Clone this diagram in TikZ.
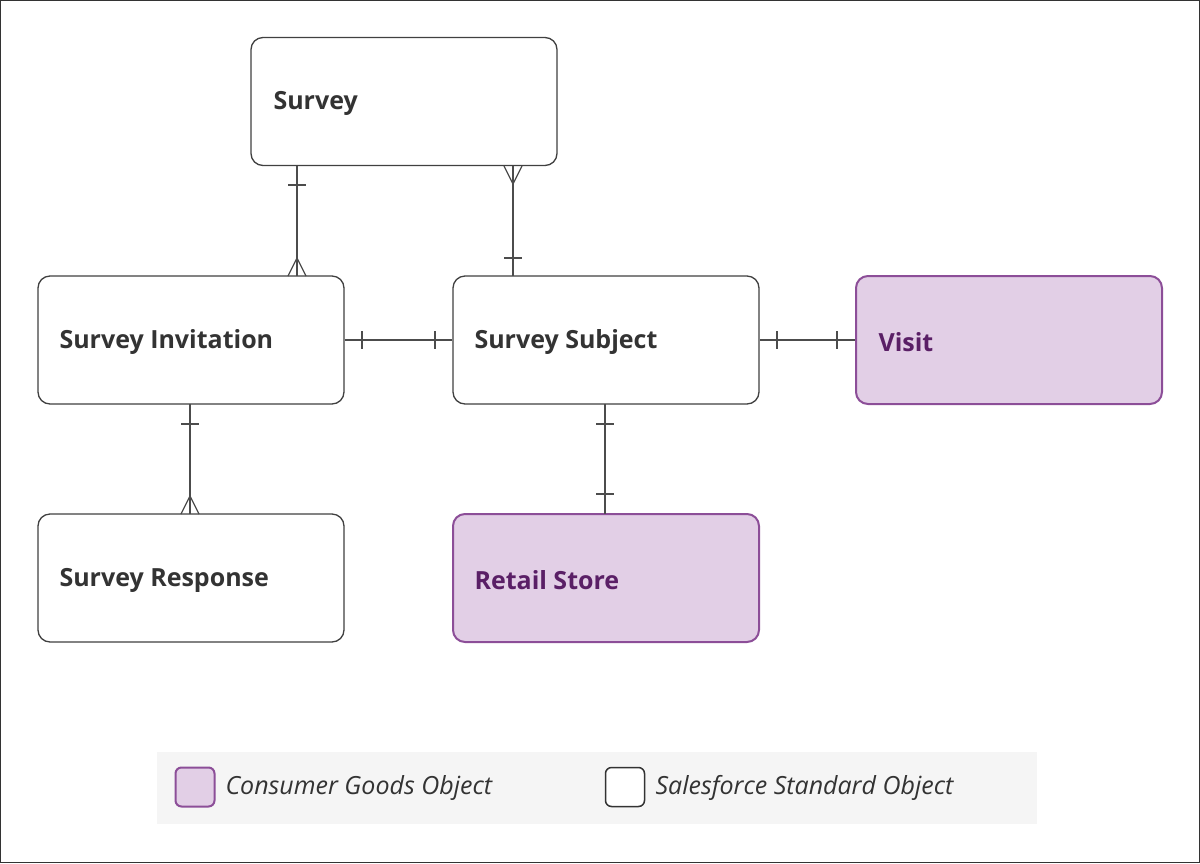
\documentclass[tikz,border=0pt]{standalone}
\usepackage{fontspec}
\setmainfont{Open Sans}
\begin{document}
\begin{tikzpicture}[x=1pt,y=-1pt,
  box/.style={draw=black!75,line width=1.3pt,rounded corners=12pt,fill=white,minimum width=306pt,minimum height=128pt,inner sep=0pt},
  cg/.style={box,fill=cgfill,draw=cgedge,line width=2pt},
  lbl/.style={anchor=west,font=\fontsize{25}{30}\selectfont\bfseries,text=black!80},
  cgl/.style={lbl,text=cgtext},
  conn/.style={draw=black!70,line width=1.3pt}]
\definecolor{cgfill}{HTML}{E2CFE6}
\definecolor{cgedge}{HTML}{8C4E98}
\definecolor{cgtext}{HTML}{5A1F66}
\useasboundingbox (0,0) rectangle (1200,863);
\draw[black!80,line width=1pt] (0.5,0.5) rectangle (1199.5,862.5);
% boxes
\node[box] (sv) at (404,101.5) {};
\node[box] (si) at (191,340) {};
\node[box] (ss) at (606,340) {};
\node[cg] (vi) at (1009,340) {};
\node[box] (sr) at (191,578) {};
\node[cg] (rs) at (606,578) {};
\node[lbl] at (270,103) {Survey};
\node[lbl] at (56,342) {Survey Invitation};
\node[lbl] at (471,342) {Survey Subject};
\node[cgl] at (875,342) {Visit};
\node[lbl] at (56,580) {Survey Response};
\node[cgl] at (471,580) {Retail Store};
% connectors
\coordinate (a1) at (297,165.5); \coordinate (a2) at (297,276);
\draw[conn] (a1) -- (a2);
\draw[conn] (288,185) -- (306,185);
\draw[conn] (288,276) -- (297,258) -- (306,276);
\coordinate (b1) at (513,165.5); \coordinate (b2) at (513,276);
\draw[conn] (b1) -- (b2);
\draw[conn] (504,258) -- (522,258);
\draw[conn] (504,166) -- (513,184) -- (522,166);
\draw[conn] (si.east |- 0,340) -- (ss.west |- 0,340);
\draw[conn] (362,331) -- (362,349);
\draw[conn] (435,331) -- (435,349);
\draw[conn] (ss.east |- 0,340) -- (vi.west |- 0,340);
\draw[conn] (777,331) -- (777,349);
\draw[conn] (837,331) -- (837,349);
\coordinate (c1) at (190,404); \coordinate (c2) at (190,514);
\draw[conn] (c1) -- (c2);
\draw[conn] (181,424) -- (199,424);
\draw[conn] (181,514) -- (190,496) -- (199,514);
\coordinate (d1) at (605,404); \coordinate (d2) at (605,514);
\draw[conn] (d1) -- (d2);
\draw[conn] (596,424) -- (614,424);
\draw[conn] (596,494) -- (614,494);
% legend
\fill[black!4] (157,752) rectangle (1037,824);
\node[draw=cgedge,fill=cgfill,line width=2pt,rounded corners=6pt,minimum size=39pt,inner sep=0pt] (l1) at (195,787) {};
\node[anchor=west,font=\fontsize{25}{30}\selectfont\itshape,text=black!80] (l1t) at (222,788) {Consumer Goods Object};
\node[draw=black!80,fill=white,line width=1.5pt,rounded corners=6pt,minimum size=39pt,inner sep=0pt] (l2) at (625,787) {};
\node[anchor=west,font=\fontsize{25}{30}\selectfont\itshape,text=black!80] (l2t) at (652,788) {Salesforce Standard Object};
\end{tikzpicture}
\end{document}
